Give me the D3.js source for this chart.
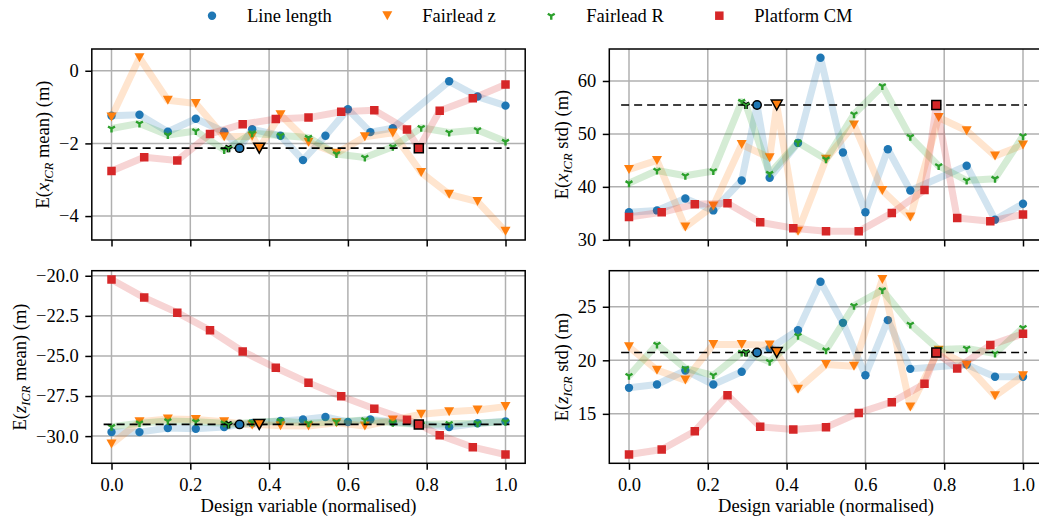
<!DOCTYPE html>
<meta charset="utf-8">
<style>
body { margin: 0; background: #fff; }
text { font-family: "Liberation Serif", "Times New Roman", serif; font-size: 18.5px; fill: #000; }
.grid line { stroke: #b0b0b0; stroke-width: 1.5; }
.tick line { stroke: #000; stroke-width: 1.5; }
</style>
<body>
<script src="https://cdnjs.cloudflare.com/ajax/libs/d3/7.8.5/d3.min.js"></script>
<script>

var width = 1039, height = 521;

var seriesNames = ["Line length", "Fairlead z", "Fairlead R", "Platform CM"];
var seriesColors = ["#1f77b4", "#ff7f0e", "#2ca02c", "#d62728"];
var seriesShapes = ["circle", "triangle", "tri", "square"];

// design points of each series (normalised)
var xLine = [0, 0.071, 0.143, 0.214, 0.286, 0.357, 0.429, 0.486, 0.543, 0.6, 0.657, 0.714, 0.857, 0.929, 1.0];
var xFairlead = [0, 0.071, 0.143, 0.214, 0.286, 0.357, 0.429, 0.5, 0.571, 0.643, 0.714, 0.786, 0.857, 0.929, 1.0];
var xPlatform = [0, 0.083, 0.167, 0.25, 0.333, 0.417, 0.5, 0.583, 0.667, 0.75, 0.833, 0.917, 1.0];
var seriesX = [xLine, xFairlead, xFairlead, xPlatform];

// optimum design (x) of each series
var optimumX = [0.325, 0.375, 0.297, 0.78];

// E(x_ICR mean)
var lineXMean = [-1.24, -1.21, -1.68, -1.32, -1.68, -1.61, -1.79, -2.46, -1.79, -1.06, -1.69, -1.58, -0.29, -0.71, -0.96];
var fzXMean = [-1.27, 0.36, -0.81, -0.90, -1.82, -1.80, -1.21, -1.97, -2.27, -1.82, -1.71, -2.80, -3.40, -3.60, -4.42];
var fRXMean = [-1.59, -1.45, -1.77, -1.66, -2.18, -1.72, -1.78, -1.84, -2.29, -2.39, -2.09, -1.57, -1.70, -1.63, -1.95];
var cmXMean = [-2.76, -2.38, -2.47, -1.74, -1.47, -1.33, -1.29, -1.13, -1.09, -1.62, -1.10, -0.76, -0.38];
var optXMean = -2.13;

// E(x_ICR std)
var lineXStd = [35.2, 35.55, 37.8, 35.55, 41.2, 41.7, 48.3, 64.4, 46.5, 35.2, 47.1, 39.3, 44.0, 33.8, 36.8];
var fzXStd = [43.3, 45.0, 32.4, 36.4, 48.0, 45.5, 31.6, 45.2, 51.7, 39.3, 34.3, 53.1, 50.6, 45.85, 47.9];
var fRXStd = [40.7, 43.1, 42.1, 43.0, 56.1, 42.5, 48.4, 45.2, 53.7, 59.05, 49.45, 43.95, 41.2, 41.55, 49.6];
var cmXStd = [34.3, 35.2, 36.7, 36.9, 33.3, 32.2, 31.6, 31.6, 35.05, 39.4, 34.1, 33.5, 34.8];
var optXStd = 55.45;

// E(z_ICR mean)
var lineZMean = [-29.75, -29.75, -29.5, -29.54, -29.44, -29.2, -29.06, -28.96, -28.81, -29.12, -28.96, -29.1, -29.44, -29.2, -29.08];
var fzZMean = [-30.5, -29.1, -28.94, -28.96, -29.1, -29.31, -29.35, -29.37, -29.17, -29.37, -29.0, -28.64, -28.48, -28.37, -28.16];
var fRZMean = [-29.42, -29.2, -29.06, -29.1, -29.2, -29.14, -29.06, -29.2, -29.1, -29.0, -29.17, -29.27, -29.23, -29.2, -29.1];
var cmZMean = [-20.23, -21.36, -22.30, -23.40, -24.72, -25.74, -26.68, -27.52, -28.29, -28.98, -29.94, -30.69, -31.15];
var optZMean = -29.27;

// E(z_ICR std)
var lineZStd = [17.43, 17.74, 19.05, 17.74, 18.93, 21.1, 22.82, 27.34, 23.5, 18.6, 23.75, 19.2, 19.6, 18.46, 18.46];
var fzZStd = [21.26, 19.08, 18.15, 21.48, 21.48, 21.42, 17.3, 19.6, 19.45, 27.55, 15.65, 20.95, 19.55, 16.68, 18.55];
var fRZStd = [18.55, 21.48, 19.24, 18.6, 20.73, 19.86, 22.29, 20.95, 25.1, 26.56, 23.35, 21.0, 21.1, 20.64, 23.04];
var cmZStd = [11.2, 11.67, 13.38, 16.74, 13.79, 13.54, 13.75, 15.09, 16.09, 17.8, 19.24, 21.42, 22.48];
var optZStd = 20.73;

var xTicks = [0, 0.2, 0.4, 0.6, 0.8, 1.0];
var yTicksXMean = [-4, -2, 0];
var yTicksXStd = [30, 40, 50, 60];
var yTicksZMean = [-30, -27.5, -25, -22.5, -20];
var yTicksZStd = [15, 20, 25];

var panels = [
  {col: 0, row: 0, sym: "x", stat: "mean", values: [lineXMean, fzXMean, fRXMean, cmXMean], opt: optXMean, ticks: yTicksXMean, fmt: d3.format("d")},
  {col: 1, row: 0, sym: "x", stat: "std", values: [lineXStd, fzXStd, fRXStd, cmXStd], opt: optXStd, ticks: yTicksXStd, fmt: d3.format("d")},
  {col: 0, row: 1, sym: "z", stat: "mean", values: [lineZMean, fzZMean, fRZMean, cmZMean], opt: optZMean, ticks: yTicksZMean, fmt: d3.format(".1f")},
  {col: 1, row: 1, sym: "z", stat: "std", values: [lineZStd, fzZStd, fRZStd, cmZStd], opt: optZStd, ticks: yTicksZStd, fmt: d3.format("d")}
];

// axes boxes
var colLeft = [91.8, 609.3], colRight = [525.2, 1042.7];
var rowTop = [49, 270.7], rowBottom = [240, 463.3];

var svg = d3.select("body").append("svg")
    .attr("width", width)
    .attr("height", height);

function markerPath(shape, s) {
  if (shape === "triangle") {
    return "M" + (-s / 2) + "," + (-s * 0.45) + "L" + (s / 2) + "," + (-s * 0.45) + "L0," + (s * 0.45) + "Z";
  }
  if (shape === "square") {
    return "M" + (-s / 2) + "," + (-s / 2) + "h" + s + "v" + s + "h" + (-s) + "Z";
  }
  if (shape === "tri") {
    return "M0,0L0," + s + "M0,0L" + (-0.866 * s) + "," + (-0.5 * s) + "M0,0L" + (0.866 * s) + "," + (-0.5 * s);
  }
  return null;
}

function drawMarker(g, shape, color, cx, cy, opt) {
  if (shape === "circle") {
    g.append("circle").attr("cx", cx).attr("cy", cy)
      .attr("r", opt ? 4.2 : 4.2)
      .attr("fill", color)
      .attr("stroke", opt ? "#000" : "none")
      .attr("stroke-width", 1.5);
  } else if (shape === "tri") {
    var p = markerPath("tri", 4);
    if (opt) {
      g.append("path").attr("d", p).attr("transform", "translate(" + cx + "," + cy + ")")
        .attr("stroke", "#000").attr("stroke-width", 3.6).attr("fill", "none");
    }
    g.append("path").attr("d", p).attr("transform", "translate(" + cx + "," + cy + ")")
      .attr("stroke", color).attr("stroke-width", opt ? 1.6 : 2.4).attr("fill", "none");
  } else {
    var s = shape === "triangle" ? (opt ? 11 : 10) : (opt ? 9 : 8.5);
    g.append("path").attr("d", markerPath(shape, s))
      .attr("transform", "translate(" + cx + "," + cy + ")")
      .attr("fill", color)
      .attr("stroke", opt ? "#000" : "none")
      .attr("stroke-width", 1.5)
      .attr("stroke-linejoin", "miter");
  }
}

panels.forEach(function(p, pi) {
  var left = colLeft[p.col], right = colRight[p.col];
  var top = rowTop[p.row], bottom = rowBottom[p.row];

  var x = d3.scaleLinear().domain([-0.05, 1.05]).range([left, right]);

  var all = d3.merge(p.values).concat([p.opt]);
  var lo = d3.min(all), hi = d3.max(all), pad = (hi - lo) * 0.05;
  var y = d3.scaleLinear().domain([lo - pad, hi + pad]).range([bottom, top]);

  var g = svg.append("g");

  g.append("clipPath").attr("id", "clip" + pi)
    .append("rect").attr("x", left).attr("y", top)
    .attr("width", right - left).attr("height", bottom - top);

  // grid
  var grid = g.append("g").attr("class", "grid");
  grid.selectAll(".gx").data(xTicks).enter().append("line")
    .attr("x1", function(d) { return x(d); }).attr("x2", function(d) { return x(d); })
    .attr("y1", top).attr("y2", bottom);
  grid.selectAll(".gy").data(p.ticks).enter().append("line")
    .attr("x1", left).attr("x2", right)
    .attr("y1", function(d) { return y(d); }).attr("y2", function(d) { return y(d); });

  var plot = g.append("g").attr("clip-path", "url(#clip" + pi + ")");

  var line = d3.line().x(function(d) { return x(d.x); }).y(function(d) { return y(d.y); });

  p.values.forEach(function(vals, si) {
    var pts = seriesX[si].map(function(xx, j) { return {x: xx, y: vals[j]}; });
    var withOpt = pts.concat([{x: optimumX[si], y: p.opt}])
      .sort(function(a, b) { return a.x - b.x; });

    plot.append("path")
      .attr("d", line(withOpt))
      .attr("fill", "none")
      .attr("stroke", seriesColors[si])
      .attr("stroke-opacity", 0.2)
      .attr("stroke-width", 7)
      .attr("stroke-linejoin", "round");

    pts.forEach(function(d) {
      drawMarker(plot, seriesShapes[si], seriesColors[si], x(d.x), y(d.y), false);
    });
  });

  // optimum level
  plot.append("line")
    .attr("x1", x(-0.02)).attr("x2", x(1.01))
    .attr("y1", y(p.opt)).attr("y2", y(p.opt))
    .attr("stroke", "#000").attr("stroke-width", 1.6)
    .attr("stroke-dasharray", "8,5");

  optimumX.forEach(function(ox, si) {
    drawMarker(plot, seriesShapes[si], seriesColors[si], x(ox), y(p.opt), true);
  });

  // frame
  g.append("rect")
    .attr("x", left).attr("y", top)
    .attr("width", right - left).attr("height", bottom - top)
    .attr("fill", "none").attr("stroke", "#000").attr("stroke-width", 1.5);

  // x axis
  var xAxis = d3.axisBottom(x).tickValues(xTicks).tickSizeInner(6.5).tickSizeOuter(0).tickPadding(6.5)
    .tickFormat(p.row === 1 ? d3.format(".1f") : "");
  var xg = g.append("g").attr("transform", "translate(0," + bottom + ")").call(xAxis);
  xg.select(".domain").remove();
  xg.selectAll("text").attr("font-size", null).attr("font-family", null).attr("dy", "0.78em");

  // y axis
  var yAxis = d3.axisLeft(y).tickValues(p.ticks).tickSizeInner(6.5).tickSizeOuter(0).tickPadding(6.5)
    .tickFormat(p.fmt);
  var yg = g.append("g").attr("transform", "translate(" + left + ",0)").call(yAxis);
  yg.select(".domain").remove();
  yg.selectAll("text").attr("font-size", null).attr("font-family", null);
  xg.attr("font-size", null).attr("font-family", null);
  yg.attr("font-size", null).attr("font-family", null);

  var minLeft = d3.min(yg.selectAll("text").nodes(), function(n) { return n.getBBox().x; }) + left;

  // y label
  var lx = minLeft - 10, ly = (top + bottom) / 2;
  var lab = g.append("text")
    .attr("transform", "translate(" + lx + "," + ly + ") rotate(-90)")
    .attr("text-anchor", "middle");
  lab.append("tspan").text("E(");
  lab.append("tspan").style("font-style", "italic").text(p.sym);
  lab.append("tspan").style("font-style", "italic").style("font-size", "12.5px").attr("dy", 4).text("ICR");
  lab.append("tspan").attr("dy", -4).text(" " + p.stat + ") (m)");

  if (p.row === 1) {
    g.append("text")
      .attr("x", (left + right) / 2).attr("y", bottom + 48.7)
      .attr("text-anchor", "middle")
      .text("Design variable (normalised)");
  }
});

// legend
var legend = svg.append("g");
var cursor = 0;
seriesNames.forEach(function(name, si) {
  var mx = cursor + 18.5;
  drawMarker(legend, seriesShapes[si], seriesColors[si], mx, 15.7, false);
  var t = legend.append("text").attr("x", mx + 35).attr("y", 15.7).attr("dy", "0.32em").text(name);
  cursor = mx + 35 + t.node().getComputedTextLength() + 37;
});
var legendWidth = cursor - 37;
legend.attr("transform", "translate(" + (523 - legendWidth / 2) + ",0)");

</script>
